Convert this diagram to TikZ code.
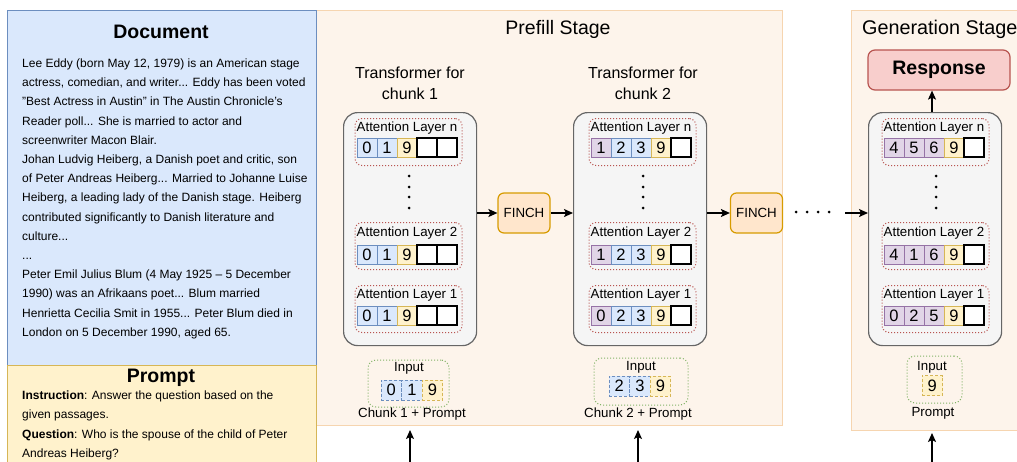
\documentclass[tikz,border=0pt]{standalone}
\usepackage{fontspec}
\setmainfont{Liberation Sans}
\usetikzlibrary{arrows.meta}
\definecolor{docfill}{HTML}{DAE8FC}
\definecolor{docline}{HTML}{6C8EBF}
\definecolor{prfill}{HTML}{FFF2CC}
\definecolor{prline}{HTML}{D6B656}
\definecolor{pufill}{HTML}{E1D5E7}
\definecolor{puline}{HTML}{9673A6}
\definecolor{stagefill}{HTML}{FDF4EB}
\definecolor{stageline}{HTML}{F6D5B0}
\definecolor{tfill}{HTML}{F5F5F5}
\definecolor{tline}{HTML}{666666}
\definecolor{lline}{HTML}{B85450}
\definecolor{gline}{HTML}{82B366}
\definecolor{finfill}{HTML}{FFE6CC}
\definecolor{finline}{HTML}{D79B00}
\definecolor{resfill}{HTML}{F8CECC}
\definecolor{resline}{HTML}{B85450}
\newcommand\mkcells[4]{%
  \foreach \st/\tx [count=\i] in {#4} {
    \node[cell,\st] (#1-\i) at ({#2+10+20*(\i-1)},#3) {\tx};
  }}
\newcommand\mkincells[4]{%
  \foreach \st/\tx [count=\i] in {#4} {
    \node[icell,\st] (#1-\i) at ({#2+10.3+20.6*(\i-1)},#3) {\tx};
  }}
\begin{document}
\begin{tikzpicture}[x=1pt,y=-1pt,
  box/.style={anchor=north west, inner sep=0, line width=1},
  stage/.style={box, draw=stageline, fill=stagefill},
  tbox/.style={box, draw=tline, fill=tfill, rounded corners=14, line width=1.2, minimum width=133, minimum height=233},
  layer/.style={box, draw=lline, dotted, rounded corners=7, minimum width=107, minimum height=47},
  lab/.style={font=\fontsize{13.3}{13.3}\selectfont, inner sep=0},
  cell/.style={minimum width=20, minimum height=19, inner sep=0, line width=0.8, font=\fontsize{16.5}{16.5}\selectfont},
  icell/.style={minimum width=20.6, minimum height=20, inner sep=0, line width=0.9, dash pattern=on 3pt off 2pt, font=\fontsize{16.5}{16.5}\selectfont},
  bc/.style={fill=docfill, draw=docline},
  yc/.style={fill=prfill, draw=prline},
  pc/.style={fill=pufill, draw=puline},
  ec/.style={fill=white, draw=black, line width=1.5},
  inbox/.style={draw=gline, dotted, line width=1, rounded corners=8, inner sep=0},
  finch/.style={draw=finline, fill=finfill, line width=1.2, rounded corners=6, minimum width=52, minimum height=40, inner sep=0, font=\fontsize{13.3}{13.3}\selectfont},
  arr/.style={-{Stealth[length=9pt,width=8pt,inset=2pt]}, line width=1.4},
  dotc/.style={circle, fill=black, inner sep=0, minimum size=3}
]
\useasboundingbox (0,0) rectangle (1017,461);
\clip (0,0) rectangle (1017,461);
\fill[white] (0,0) rectangle (1017,461);

% stage boxes
\node[stage, minimum width=466, minimum height=415] (pre) at (316,10) {};
\node[stage, minimum width=190, minimum height=420] (gen) at (851,10) {};
\node[inner sep=0, font=\fontsize{19.5}{19.5}\selectfont] (pret) at (558,29) {Prefill Stage};
\node[inner sep=0, anchor=west, font=\fontsize{19.8}{19.8}\selectfont] (gent) at (862,29) {Generation Stage};

% document and prompt
\node[box, draw=docline, fill=docfill, minimum width=309, minimum height=355] (doc) at (7,10) {};
\node[box, draw=prline, fill=prfill, minimum width=309, minimum height=120] (prm) at (7,365) {};
\node[inner sep=0, font=\bfseries\fontsize{19.5}{19.5}\selectfont] (doct) at (161,32) {Document};
\node[inner sep=0, font=\bfseries\fontsize{19.5}{19.5}\selectfont] (prmt) at (161,378) {Prompt};
\node[anchor=north west, inner sep=0, align=left, font=\fontsize{12}{19.2}\selectfont] (doctext) at (22,58.5) {%
Lee Eddy (born May 12, 1979) is an American stage\\
actress, comedian, and writer... Eddy has been voted\\
"Best Actress in Austin" in The Austin Chronicle's\\
Reader poll... She is married to actor and\\
screenwriter Macon Blair.\\
Johan Ludvig Heiberg, a Danish poet and critic, son\\
of Peter Andreas Heiberg... Married to Johanne Luise\\
Heiberg, a leading lady of the Danish stage. Heiberg\\
contributed significantly to Danish literature and\\
culture...\\
...\\
Peter Emil Julius Blum (4 May 1925 – 5 December\\
1990) was an Afrikaans poet... Blum married\\
Henrietta Cecilia Smit in 1955... Peter Blum died in\\
London on 5 December 1990, aged 65.};
\node[anchor=north west, inner sep=0, align=left, font=\fontsize{12}{19.3}\selectfont] (prmtext) at (22,390.6) {%
\textbf{Instruction}: Answer the question based on the\\
given passages.\\
\textbf{Question}: Who is the spouse of the child of Peter\\
Andreas Heiberg?};

% transformer titles
\node[align=center, inner sep=0, font=\fontsize{16}{21}\selectfont] (t1t) at (410,83) {Transformer for\\chunk 1};
\node[align=center, inner sep=0, font=\fontsize{16}{21}\selectfont] (t2t) at (643,83) {Transformer for\\chunk 2};

% transformer boxes
\node[tbox] (t1) at (343,112) {};
\node[tbox] (t2) at (573,112) {};
\node[tbox] (t3) at (868,112) {};

% layers
\foreach \xs/\nm in {357/t1, 591/t2, 884/t3} {
  \node[layer] (\nm-ln) at (\xs-2.5,118) {};
  \node[layer] (\nm-l2) at (\xs-2.5,222) {};
  \node[layer] (\nm-l1) at (\xs-2.5,285) {};
  \node[lab] (\nm-lnt) at (\xs+50,128) {Attention Layer n};
  \node[lab] (\nm-l2t) at (\xs+50,233) {Attention Layer 2};
  \node[lab] (\nm-l1t) at (\xs+50,295) {Attention Layer 1};
  \foreach \yy [count=\j] in {176,187,197,208} {
    \node[dotc] (\nm-dot\j) at (\xs+52,\yy) {};
  }
}
\mkcells{t1n}{357}{147.5}{bc/0,bc/1,yc/9,ec/{},ec/{}}
\mkcells{t12}{357}{254.5}{bc/0,bc/1,yc/9,ec/{},ec/{}}
\mkcells{t11}{357}{315.5}{bc/0,bc/1,yc/9,ec/{},ec/{}}
\mkcells{t2n}{591}{147.5}{pc/1,bc/2,bc/3,yc/9,ec/{}}
\mkcells{t22}{591}{254.5}{pc/1,bc/2,bc/3,yc/9,ec/{}}
\mkcells{t21}{591}{315.5}{pc/0,bc/2,bc/3,yc/9,ec/{}}
\mkcells{t3n}{884}{147.5}{pc/4,pc/5,pc/6,yc/9,ec/{}}
\mkcells{t32}{884}{254.5}{pc/4,pc/1,pc/6,yc/9,ec/{}}
\mkcells{t31}{884}{315.5}{pc/0,pc/2,pc/5,yc/9,ec/{}}

% inputs
\node[inbox, minimum width=81, minimum height=47] (i1) at (408.5,383.5) {};
\node[inbox, minimum width=94, minimum height=47] (i2) at (641,381.5) {};
\node[inbox, minimum width=55, minimum height=47] (i3) at (934.5,379.5) {};
\node[lab] (i1t) at (409,368) {Input};
\node[lab] (i2t) at (641,367) {Input};
\node[lab] (i3t) at (932,367) {Input};
\mkincells{i1c}{381}{390}{bc/0,bc/1,yc/9}
\mkincells{i2c}{609}{386}{bc/2,bc/3,yc/9}
\mkincells{i3c}{922}{385.5}{yc/9}
\node[lab] (i1cap) at (412,414) {Chunk 1 + Prompt};
\node[lab] (i2cap) at (638,414) {Chunk 2 + Prompt};
\node[lab] (i3cap) at (933,413) {Prompt};

% FINCH and response
\node[finch] (f1) at (524,213) {FINCH};
\node[finch] (f2) at (756.5,213) {FINCH};
\node[draw=resline, fill=resfill, line width=1.2, rounded corners=7, minimum width=142, minimum height=40, inner sep=0, font=\bfseries\fontsize{19.5}{19.5}\selectfont] (resp) at (939,70) {Response};

% connectors
\draw[arr] (t1.east |- f1) -- (f1.west);
\draw[arr] (f1.east) -- (t2.west |- f1);
\draw[arr] (t2.east |- f2) -- (f2.west);
\foreach \xx [count=\k] in {796,807,818,829} {
  \node[dotc] (gd\k) at (\xx,212) {};
}
\coordinate (gs) at (845,213);
\draw[arr] (gs) -- (t3.west |- gs);
\coordinate (rb) at (932,112);
\draw[arr] (rb) -- (rb |- resp.south);
\coordinate (b1) at (410,470);
\coordinate (b2) at (638,470);
\coordinate (b3) at (932,470);
\draw[arr, shorten >=4] (b1) -- (b1 |- pre.south);
\draw[arr, shorten >=4] (b2) -- (b2 |- pre.south);
\draw[arr, shorten >=2] (b3) -- (b3 |- gen.south);
\end{tikzpicture}
\end{document}
